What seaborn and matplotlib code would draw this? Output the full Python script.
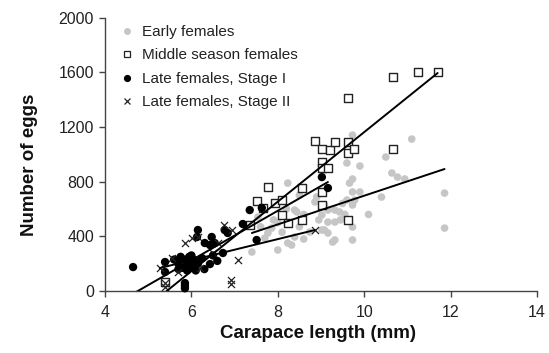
import matplotlib
matplotlib.use("Agg")
import matplotlib.pyplot as plt
from matplotlib.lines import Line2D
import seaborn as sns
import pandas as pd
import numpy as np

# ---- data ----
early_x = [7.4, 7.54, 7.7, 7.77, 7.86, 8.0, 8.1, 8.23, 8.23, 8.32, 8.39, 8.39, 8.5, 8.6, 8.74,
           8.86, 8.9, 8.95, 9.02, 9.02, 9.08, 9.08, 9.16, 9.16, 9.16, 9.27, 9.32, 9.32, 9.32, 9.43,
           9.5, 9.6, 9.6, 9.66, 9.73, 9.73, 9.73, 9.73, 9.73, 9.73, 9.78, 9.9, 9.9, 10.1, 10.4,
           10.5, 10.64, 10.77, 10.94, 11.1, 11.86, 11.86, 8.2, 8.6, 8.0, 9.45, 9.55, 7.9, 8.5, 7.6,
           8.44]
early_y = [285, 541, 387, 424, 460, 500, 430, 789, 351, 336, 395, 592, 470, 560, 431,
           651, 687, 520, 556, 446, 629, 446, 592, 504, 424, 358, 592, 504, 373, 578,
           640, 936, 665, 789, 1140, 819, 724, 629, 468, 373, 665, 914, 724, 560, 687,
           980, 863, 833, 819, 1111, 716, 460, 600, 380, 300, 520, 560, 520, 700, 470,
           578]

middle_x = [5.39, 7.35, 7.51, 7.65, 7.77, 7.93, 8.09, 8.09, 8.23, 8.55, 8.55, 8.86, 9.02, 9.02,
            9.02, 9.02, 9.02, 9.16, 9.2, 9.32, 9.62, 9.62, 9.62, 9.62, 9.76, 10.66, 10.66,
            11.24, 11.7]
middle_y = [66, 482, 658, 607, 760, 643, 665, 556, 497, 519, 753, 1096, 1038, 943,
            899, 724, 629, 899, 1031, 1089, 1089, 1009, 519, 1411, 1038, 1038, 1564,
            1601, 1601]

stage1_x = [4.65, 5.39, 5.39, 5.6, 5.7, 5.75, 5.8, 5.85, 5.9, 5.95, 6.0, 6.05, 6.1, 6.15, 5.7,
            5.9, 6.0, 5.85, 5.85, 5.85, 6.15, 6.13, 6.31, 6.47, 6.54, 6.43, 6.43, 6.6, 6.73,
            6.77, 6.84, 7.19, 7.35, 7.63, 7.51, 9.02, 9.16, 6.3, 6.5, 6.25]
stage1_y = [175, 212, 139, 230, 200, 250, 170, 230, 200, 250, 180, 230, 150, 200, 160,
            150, 260, 58, 40, 20, 446, 395, 351, 395, 351, 336, 197, 220, 278,
            446, 424, 490, 592, 607, 373, 833, 753, 160, 260, 240]

stage2_x = [5.27, 5.69, 5.39, 5.39, 5.85, 6.01, 6.15, 6.5, 6.61, 6.75, 6.94, 7.08, 6.91, 6.91,
            8.86, 5.55, 6.2]
stage2_y = [168, 139, 29, 60, 351, 387, 395, 278, 351, 482, 446, 227, 80, 51,
            446, 240, 170]

# regression line end points (x range of each series, fitted y at the ends)
middle_line_x = [5.39, 11.7]
middle_line_y = [-10, 1594]
early_line_x = [7.4, 11.86]
early_line_y = [424, 892]
stage1_line_x = [4.65, 9.16]
stage1_line_y = [-20, 797]
stage2_line_x = [5.27, 8.86]
stage2_line_y = [168, 446]

labels = ["Early females", "Middle season females", "Late females, Stage I", "Late females, Stage II"]
x_ticks = [4, 6, 8, 10, 12, 14]
y_ticks = [0, 400, 800, 1200, 1600, 2000]

# ---- plotting ----
sns.set_style("white")
plt.rcParams['font.family'] = ['Liberation Sans', 'DejaVu Sans']

W, H = 549, 353
fig = plt.figure(figsize=(W / 100, H / 100), dpi=100)
ax = fig.add_axes([105 / W, 1 - 291 / H, (537 - 105) / W, (291 - 17.5) / H])

df_e = pd.DataFrame({"x": early_x, "y": early_y})
df_m = pd.DataFrame({"x": middle_x, "y": middle_y})
df_1 = pd.DataFrame({"x": stage1_x, "y": stage1_y})
df_2 = pd.DataFrame({"x": stage2_x, "y": stage2_y})

grey = "#c6c6c6"
sns.scatterplot(data=df_e, x="x", y="y", ax=ax, color=grey, marker="o", s=30,
                edgecolor="none", zorder=2, clip_on=False, legend=False)
sns.scatterplot(data=df_m, x="x", y="y", ax=ax, marker="s", s=28, facecolor="white",
                edgecolor="#222222", linewidth=1.0, zorder=3, clip_on=False, legend=False)
sns.scatterplot(data=df_1, x="x", y="y", ax=ax, color="black", marker="o", s=36,
                edgecolor="none", zorder=4, clip_on=False, legend=False)
sns.scatterplot(data=df_2, x="x", y="y", ax=ax, color="#222222", marker="x", s=26,
                linewidth=0.9, zorder=5, clip_on=False, legend=False)

for lx, ly in [(middle_line_x, middle_line_y), (early_line_x, early_line_y),
               (stage1_line_x, stage1_line_y), (stage2_line_x, stage2_line_y)]:
    ax.plot(lx, ly, color="black", lw=1.4, zorder=6)

ax.set_xlim(4, 14)
ax.set_ylim(0, 2000)
ax.set_xticks(x_ticks)
ax.set_yticks(y_ticks)
ax.tick_params(axis="both", direction="out", length=4, width=1, color="#444444",
               labelsize=11.5, labelcolor="#222222", bottom=True, left=True)
ax.tick_params(axis="y", pad=4)
ax.tick_params(axis="x", pad=6)
for sp in ["top", "right"]:
    ax.spines[sp].set_visible(False)
for sp in ["left", "bottom"]:
    ax.spines[sp].set_color("#444444")
    ax.spines[sp].set_linewidth(1.0)

ax.set_xlabel("Carapace length (mm)", fontsize=13.5, fontweight="bold", color="#111111")
ax.set_ylabel("Number of eggs", fontsize=13.5, fontweight="bold", color="#111111")
ax.xaxis.set_label_coords((318 - 105) / 432, (291 - 334) / 273.5)
ax.yaxis.set_label_coords((30 - 105) / 432, 0.46)
ax.xaxis.label.set_va("center")
ax.yaxis.label.set_va("center")

handles = [
    Line2D([], [], ls="none", marker="o", ms=5.0, mfc=grey, mec="none"),
    Line2D([], [], ls="none", marker="s", ms=4.6, mfc="white", mec="#222222", mew=0.9),
    Line2D([], [], ls="none", marker="o", ms=5.2, mfc="black", mec="none"),
    Line2D([], [], ls="none", marker="x", ms=4.6, mec="#222222", mew=0.9),
]
leg = ax.legend(handles, labels, loc="upper left",
                bbox_to_anchor=((118 - 105) / 432, (291 - 25) / 273.5), frameon=False,
                fontsize=11, handletextpad=0.35, labelspacing=0.62, borderaxespad=0,
                borderpad=0, handlelength=1.2)
for t in leg.get_texts():
    t.set_color("#222222")

fig.savefig("out.png", dpi=100)
